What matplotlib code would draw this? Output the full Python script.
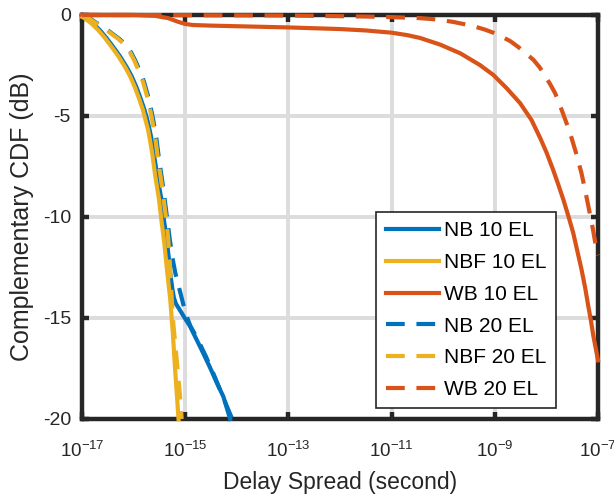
import numpy as np
import matplotlib.pyplot as plt
from matplotlib.ticker import FixedLocator, NullLocator

plt.rcParams['font.family'] = ['Liberation Sans', 'DejaVu Sans']
plt.rcParams['axes.unicode_minus'] = False
plt.rcParams['mathtext.fontset'] = 'custom'
plt.rcParams['mathtext.rm'] = 'Liberation Sans'
plt.rcParams['mathtext.it'] = 'Liberation Sans'

# curves as (log10 delay spread, complementary CDF in dB)
nb10_logx = [-17.0, -16.93, -16.79, -16.66, -16.53, -16.40, -16.27, -16.14, -16.04, -15.95, -15.87,
             -15.79, -15.735, -15.69, -15.645, -15.61, -15.54, -15.46, -15.41, -15.36, -15.32,
             -15.29, -15.25, -15.22, -15.18, -15.13, -15.07, -15.01, -14.91, -14.78, -14.65,
             -14.52, -14.39, -14.26, -14.13]
nb10_db = [0.0, -0.16, -0.42, -0.74, -1.13, -1.57, -2.03, -2.56, -3.03, -3.55, -4.1,
           -4.7, -5.2, -5.69, -6.25, -6.85, -8.0, -9.16, -10.2, -11.1, -12.0,
           -12.8, -13.55, -14.0, -14.3, -14.5, -14.75, -15.0, -15.4, -16.07, -16.75,
           -17.45, -18.2, -18.9, -20.0]

nbf10_logx = [-17.0, -16.95, -16.82, -16.69, -16.56, -16.43, -16.30, -16.17, -16.07, -15.98, -15.90,
              -15.82, -15.77, -15.72, -15.68, -15.64, -15.58, -15.51, -15.46, -15.41, -15.36,
              -15.29, -15.24, -15.20, -15.13]
nbf10_db = [-0.1, -0.16, -0.42, -0.74, -1.13, -1.57, -2.03, -2.56, -3.03, -3.55, -4.1,
            -4.7, -5.2, -5.69, -6.25, -6.85, -8.0, -9.1, -10.2, -11.2, -12.46,
            -14.1, -15.76, -17.4, -20.0]

wb10_logx = [-17.0, -16.0, -15.6, -15.33, -15.15, -15.0, -14.85, -14.5, -14.0, -13.0, -12.0, -11.5,
             -11.0, -10.7, -10.45, -10.06, -9.67, -9.29, -9.03, -8.77, -8.51, -8.29, -8.12, -8.0,
             -7.87, -7.77, -7.67, -7.57, -7.48, -7.40, -7.32, -7.25, -7.19, -7.14, -7.09, -7.0]
wb10_db = [0.0, 0.0, -0.04, -0.16, -0.33, -0.45, -0.5, -0.53, -0.56, -0.62, -0.7, -0.77,
           -0.88, -1.0, -1.14, -1.47, -1.9, -2.48, -2.97, -3.63, -4.37, -5.2, -6.1, -6.8,
           -7.67, -8.4, -9.16, -10.0, -10.8, -11.7, -12.6, -13.5, -14.4, -15.1, -15.9, -17.1]

nb20_logx = [-17.0, -16.88, -16.73, -16.58, -16.43, -16.28, -16.15, -16.05, -15.96, -15.88, -15.80,
             -15.75, -15.70, -15.62, -15.56, -15.51, -15.47, -15.43, -15.38, -15.34, -15.30,
             -15.25, -15.19, -15.13, -15.06, -14.99, -14.90, -14.77, -14.60, -14.43, -14.27, -14.09]
nb20_db = [0.0, -0.12, -0.38, -0.6, -0.9, -1.18, -1.49, -1.85, -2.3, -2.78, -3.3,
           -3.75, -4.2, -5.2, -6.1, -7.1, -7.8, -8.5, -9.5, -10.3, -11.1,
           -12.0, -12.8, -13.4, -14.1, -14.8, -15.4, -16.0, -16.9, -17.9, -18.9, -20.0]

nbf20_logx = [-17.0, -16.9, -16.75, -16.6, -16.45, -16.3, -16.17, -16.07, -15.98, -15.90, -15.82,
              -15.77, -15.72, -15.64, -15.58, -15.53, -15.49, -15.45, -15.40, -15.36, -15.33,
              -15.30, -15.28, -15.23, -15.16, -15.09, -15.07]
nbf20_db = [0.0, -0.12, -0.38, -0.6, -0.9, -1.18, -1.49, -1.85, -2.3, -2.78, -3.3,
            -3.75, -4.2, -5.2, -6.1, -7.1, -7.8, -8.5, -9.5, -10.3, -11.1,
            -12.2, -13.3, -15.3, -17.2, -19.2, -20.0]

wb20_logx = [-17.0, -13.0, -11.5, -11.0, -10.45, -10.2, -10.0, -9.8, -9.61, -9.4, -9.2, -9.03,
             -8.87, -8.7, -8.55, -8.4, -8.25, -8.13, -8.03, -7.93, -7.83, -7.72, -7.61, -7.54,
             -7.43, -7.32, -7.24, -7.16, -7.1, -7.04, -7.0]
wb20_db = [0.0, -0.03, -0.08, -0.11, -0.16, -0.21, -0.27, -0.35, -0.45, -0.57, -0.72, -0.88,
           -1.07, -1.3, -1.58, -1.9, -2.23, -2.6, -3.0, -3.42, -3.88, -4.6, -5.36, -5.86,
           -6.8, -7.84, -8.8, -9.82, -10.6, -11.47, -11.9]

labels = ['NB 10 EL', 'NBF 10 EL', 'WB 10 EL', 'NB 20 EL', 'NBF 20 EL', 'WB 20 EL']
xticks = [1e-17, 1e-15, 1e-13, 1e-11, 1e-9, 1e-7]
yticks = [-20, -15, -10, -5, 0]

blue, yellow, orange = '#0072BD', '#EDB120', '#D95319'
dash = (4.5, 2.8)

fig = plt.figure(figsize=(6.14, 4.97), dpi=100)
ax = fig.add_axes([0.1336, 0.157, 0.8404, 0.813])

series = [
    (nb10_logx, nb10_db, blue, '-'),
    (nbf10_logx, nbf10_db, yellow, '-'),
    (wb10_logx, wb10_db, orange, '-'),
    (nb20_logx, nb20_db, blue, '--'),
    (nbf20_logx, nbf20_db, yellow, '--'),
    (wb20_logx, wb20_db, orange, '--'),
]
for (lx, db, col, ls), lab in zip(series, labels):
    line, = ax.plot(10.0 ** np.array(lx), db, color=col, lw=3, ls=ls,
                    label=lab, clip_on=False, zorder=3, solid_joinstyle='round')
    if ls == '--':
        line.set_dashes(dash)

ax.set_xscale('log')
ax.set_xlim(1e-17, 1e-7)
ax.set_ylim(-20, 0)
ax.xaxis.set_major_locator(FixedLocator(xticks))
ax.xaxis.set_minor_locator(NullLocator())
ax.set_yticks(yticks)
ax.set_yticklabels([str(v) for v in yticks])

ax.grid(True, color='#dcdcdc', lw=2.8, zorder=0)
ax.set_axisbelow(True)
for sp in ax.spines.values():
    sp.set_linewidth(3.2)
    sp.set_color('#262626')
ax.tick_params(direction='in', length=5, width=3.2, color='#262626',
               top=True, right=True, labelcolor='#262626')
ax.tick_params(axis='x', labelsize=13.5, pad=16)
ax.tick_params(axis='y', labelsize=14, pad=8)

ax.set_xlabel('Delay Spread (second)', fontsize=16.5, color='#262626', labelpad=7)
ax.set_ylabel('Complementary CDF (dB)', fontsize=18, color='#262626', labelpad=6)

leg = ax.legend(loc='upper left', bbox_to_anchor=(0.570, 0.512), borderaxespad=0,
                fontsize=15, handlelength=2.55, handletextpad=0.25,
                labelspacing=0.61, borderpad=0.45, fancybox=False,
                framealpha=1, edgecolor='#262626')
leg.get_frame().set_linewidth(1.2)
leg.set_zorder(5)

fig.savefig('out.png', dpi=100)
